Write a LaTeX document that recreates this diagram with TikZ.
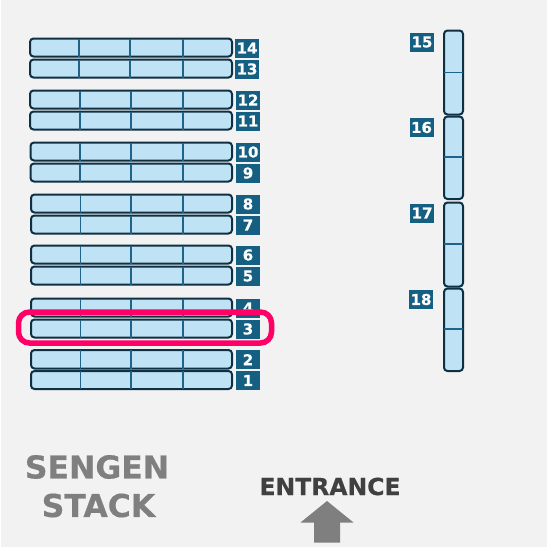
\documentclass[tikz,border=0pt]{standalone}
\usepackage{fontspec}
\setmainfont{DejaVu Sans}
\newfontfamily\heavy{DejaVu Sans Bold}[FakeBold=0.5]
\definecolor{bgc}{HTML}{F2F2F2}
\definecolor{slotfill}{HTML}{BFE3F5}
\definecolor{slotedge}{HTML}{0F2F42}
\definecolor{divc}{HTML}{1F6488}
\definecolor{tagc}{HTML}{156082}
\definecolor{hl}{HTML}{FF0066}
\definecolor{gtext}{HTML}{7F7F7F}
\definecolor{dtext}{HTML}{404040}
\tikzset{
 slot/.style={draw=slotedge,fill=slotfill,line width=2pt,rounded corners=3.5pt},
 divider/.style={draw=divc,line width=1.6pt},
 tag/.style={fill=tagc,text=white,font=\heavy\fontsize{15}{15}\selectfont,inner sep=0pt,anchor=center},
}
\begin{document}
\begin{tikzpicture}[x=1pt,y=-1pt]
\useasboundingbox (0,0) rectangle (547,547);
\fill[white] (0,0) rectangle (547,547);
\fill[bgc] (1,0) rectangle (547,547);
\foreach \n/\l/\t/\b/\da/\db/\dc/\tl in {
 14/30/38.5/56.5/79/130/183/235,
 13/30/59.5/77.5/79/130/183/235,
 12/30/90.5/108.5/80/131/183/236,
 11/30/111.5/129.5/80/131/183/236,
 10/30.5/142.5/160.5/80/131/183/236,
 9/30.5/163.5/181.5/80/131/183/236,
 8/31/194.5/212.5/80.5/131/183/236,
 7/31/215.5/233.5/80.5/131/183/236,
 6/31/245.5/263.5/80.5/131/183/236,
 5/31/266.5/284.5/80.5/131/183/236,
 4/31/298.5/316.5/80.5/131/183/236,
 3/31/319.5/337.5/80.5/131/183/236,
 2/31/350/368.5/80.5/131/183/236,
 1/31/371/389/80.5/131/183/236}{
  \draw[slot] (\l,\t) rectangle (232,\b);
  \draw[divider] (\da,\t) -- (\da,\b) (\db,\t) -- (\db,\b) (\dc,\t) -- (\dc,\b);
  \node[tag,minimum width=24pt,minimum height=19pt] (t\n) at (\tl+12,{(\t+\b)/2+0.5}) {\n};
}
\foreach \n/\t/\d/\b/\tx/\ty in {
 15/30.5/72.5/114.5/422/42,
 16/116.5/157/199/421.5/127.5,
 17/202.5/244/286.5/422/213,
 18/288.5/329/371/421/299.5}{
  \draw[slot] (444,\t) rectangle (463,\b);
  \draw[divider] (444,\d) -- (463,\d);
  \node[tag,minimum width=24pt,minimum height=19pt] (t\n) at (\tx,\ty) {\n};
}
\draw[hl,line width=5.5pt,rounded corners=11pt] (18.5,312) rectangle (271.5,343);
\node[text=gtext,font=\heavy\fontsize{31.5}{31.5}\selectfont,anchor=center] (sg) at (97,467) {SENGEN};
\node[text=gtext,font=\heavy\fontsize{31.5}{31.5}\selectfont,anchor=center] (st) at (98.5,505.5) {STACK};
\node[text=dtext,font=\heavy\fontsize{23.5}{23.5}\selectfont,anchor=center] (en) at (330,486.5) {ENTRANCE};
\fill[gtext] (327,501) -- (353.5,522.5) -- (340,522.5) -- (340,542.5) -- (314,542.5) -- (314,522.5) -- (300.5,522.5) -- cycle;
\end{tikzpicture}
\end{document}
